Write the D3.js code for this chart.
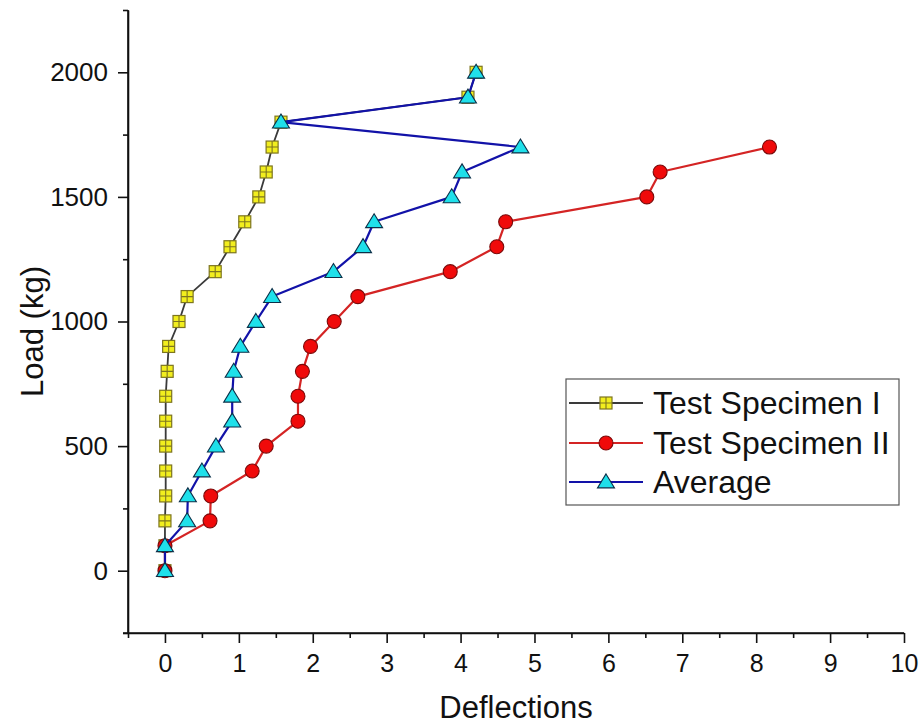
<!DOCTYPE html>
<html>
<head>
<meta charset="utf-8">
<script src="https://cdn.jsdelivr.net/npm/d3@7"></script>
<style>
  html, body { margin: 0; padding: 0; background: #fff; }
  svg { display: block; font-family: "Liberation Sans", Arial, sans-serif; }
</style>
</head>
<body>
<svg id="chart" width="921" height="727"></svg>
<script>
// Load steps (kg)
const loads = [0,100,200,300,400,500,600,700,800,900,1000,1100,1200,1300,1400,1500,1600,1700,1800,1900,2000];

// Deflections measured at each load step
const specimen1 = [0,0,0,0.01,0.01,0.01,0.01,0.01,0.03,0.05,0.19,0.30,0.68,0.88,1.08,1.27,1.37,1.45,1.57,4.10,4.21];
const specimen2 = [0,0,0.61,0.62,1.18,1.37,1.80,1.80,1.86,1.97,2.29,2.61,3.86,4.49,4.61,6.52,6.70,8.18];
const average   = [0,0,0.30,0.31,0.50,0.69,0.91,0.91,0.93,1.02,1.23,1.45,2.28,2.68,2.83,3.88,4.02,4.81,1.57,4.10,4.21];

const seriesNames = ["Test Specimen I", "Test Specimen II", "Average"];
const xTicks = [0,1,2,3,4,5,6,7,8,9,10];
const yTicks = [0,500,1000,1500,2000];

const svg = d3.select("#chart");

const x = d3.scaleLinear().domain([-0.5, 10]).range([128, 904]);
const y = d3.scaleLinear().domain([-250, 2250]).range([633, 10]);

// Axes: major ticks labelled, minor ticks halfway between
const axisColor = "#111";
const gx = svg.append("g").attr("transform", `translate(0,${y(-250)})`);
gx.call(d3.axisBottom(x).tickValues(d3.range(-0.5, 10.01, 0.5).filter(v => !Number.isInteger(v)))
  .tickSize(5).tickFormat("").tickSizeOuter(0));
gx.call(g => g.select(".domain").remove());
const gx2 = svg.append("g").attr("transform", `translate(0,${y(-250)})`);
gx2.call(d3.axisBottom(x).tickValues(xTicks).tickSize(10).tickSizeOuter(0).tickPadding(11).tickFormat(d3.format("d")));
gx2.selectAll("text").attr("font-size", 25).attr("fill", "#111").attr("font-family", "Liberation Sans, Arial, sans-serif");

const gy = svg.append("g").attr("transform", `translate(${x(-0.5)},0)`);
gy.call(d3.axisLeft(y).tickValues(d3.range(-250, 2251, 250).filter(v => v % 500 !== 0))
  .tickSize(5).tickFormat("").tickSizeOuter(0));
gy.call(g => g.select(".domain").remove());
const gy2 = svg.append("g").attr("transform", `translate(${x(-0.5)},0)`);
gy2.call(d3.axisLeft(y).tickValues(yTicks).tickSize(10).tickSizeOuter(0).tickPadding(10).tickFormat(d3.format("d")));
gy2.selectAll("text").attr("font-size", 26).attr("fill", "#111").attr("font-family", "Liberation Sans, Arial, sans-serif");

svg.selectAll(".tick line, .domain").attr("stroke", axisColor).attr("stroke-width", 1.6);

// Extend the axis lines slightly past the corner
svg.append("line").attr("x1", x(-0.5) - 5).attr("x2", x(10)).attr("y1", y(-250)).attr("y2", y(-250))
  .attr("stroke", axisColor).attr("stroke-width", 1.6);
svg.append("line").attr("x1", x(-0.5)).attr("x2", x(-0.5)).attr("y1", y(-250)).attr("y2", y(2250))
  .attr("stroke", axisColor).attr("stroke-width", 1.6);

// Axis titles
svg.append("text").attr("x", (x(-0.5) + x(10)) / 2).attr("y", 718)
  .attr("text-anchor", "middle").attr("font-size", 31).attr("fill", "#111").text("Deflections");
svg.append("text").attr("transform", `translate(43,${(y(-250) + y(2250)) / 2 + 10}) rotate(-90)`)
  .attr("text-anchor", "middle").attr("font-size", 31).attr("fill", "#111").text("Load (kg)");

// Marker drawing helpers
function squareMarker(g, cx, cy, s) {
  g.append("rect").attr("x", cx - s / 2).attr("y", cy - s / 2).attr("width", s).attr("height", s)
    .attr("fill", "#f2ee1e").attr("stroke", "#7d7520").attr("stroke-width", 1.2);
  g.append("path").attr("d", `M${cx - s / 2},${cy}H${cx + s / 2}M${cx},${cy - s / 2}V${cy + s / 2}`)
    .attr("stroke", "#7d7520").attr("stroke-width", 1.1);
}
function circleMarker(g, cx, cy, r) {
  g.append("circle").attr("cx", cx).attr("cy", cy).attr("r", r)
    .attr("fill", "#f00a0a").attr("stroke", "#7a0a0a").attr("stroke-width", 1.1);
}
function triangleMarker(g, cx, cy, w) {
  const h = w * 0.82;
  g.append("path")
    .attr("d", `M${cx},${cy - h * 0.58}L${cx + w / 2},${cy + h * 0.42}L${cx - w / 2},${cy + h * 0.42}Z`)
    .attr("fill", "#1fe0ea").attr("stroke", "#0b2f48").attr("stroke-width", 1.1);
}

const series = [
  { name: seriesNames[0], vals: specimen1, line: "#3a3a3a", lw: 1.8, marker: (g, a, b) => squareMarker(g, a, b, 12) },
  { name: seriesNames[1], vals: specimen2, line: "#d42424", lw: 2.2, marker: (g, a, b) => circleMarker(g, a, b, 7) },
  { name: seriesNames[2], vals: average,   line: "#1212a8", lw: 2.2, marker: (g, a, b) => triangleMarker(g, a, b, 17) }
];

const lineGen = d3.line().x(d => x(d[0])).y(d => y(d[1]));

series.forEach(s => {
  const pts = s.vals.map((v, i) => [v, loads[i]]);
  const g = svg.append("g");
  g.append("path").datum(pts).attr("d", lineGen)
    .attr("fill", "none").attr("stroke", s.line).attr("stroke-width", s.lw).attr("stroke-linejoin", "round");
  pts.forEach(p => s.marker(g, x(p[0]), y(p[1])));
});

// Legend
const legend = svg.append("g");
legend.append("rect").attr("x", 566).attr("y", 379).attr("width", 333).attr("height", 126)
  .attr("fill", "#fff").attr("stroke", "#555").attr("stroke-width", 1.2);
const rowY = [403, 443, 482];
series.forEach((s, i) => {
  const cy = rowY[i];
  legend.append("line").attr("x1", 569).attr("x2", 643).attr("y1", cy).attr("y2", cy)
    .attr("stroke", s.line).attr("stroke-width", s.lw);
  s.marker(legend, 606, cy);
  legend.append("text").attr("x", 653).attr("y", cy + 11).attr("font-size", 32).attr("fill", "#111").text(s.name);
});
</script>
</body>
</html>
